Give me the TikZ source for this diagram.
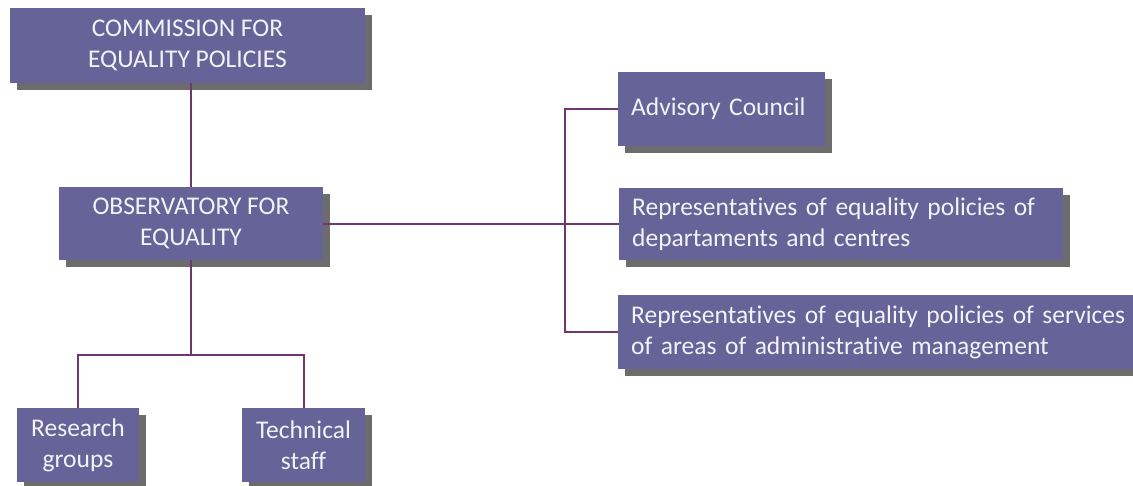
\documentclass[tikz,border=0pt]{standalone}
\usepackage{fontspec}
\setmainfont{Carlito}[Ligatures=NoCommon]
\usetikzlibrary{shadows}
\definecolor{boxfill}{RGB}{101,99,152}
\definecolor{boxtext}{RGB}{242,242,248}
\definecolor{boxshade}{RGB}{92,92,92}
\definecolor{linkline}{RGB}{112,54,112}
\tikzset{
  unit/.style={fill=boxfill, text=boxtext, font=\fontsize{25.5}{31}\selectfont, inner sep=0pt,
    drop shadow={shadow xshift=6.5pt, shadow yshift=-6.5pt, fill=boxshade, opacity=0.9}},
  centred/.style={unit, align=center},
  flushed/.style={unit, align=left, anchor=west, inner xsep=13pt},
  link/.style={linkline, line width=2pt}
}
\begin{document}
\begin{tikzpicture}[x=1pt, y=-1pt]
  \useasboundingbox (0,0) rectangle (1133,485);
  \node[centred, minimum width=355pt, minimum height=75pt] (comm) at (187.5,45.5) {COMMISSION FOR\\EQUALITY POLICIES};
  \node[centred, minimum width=264pt, minimum height=73pt] (obs) at (191,223.5) {OBSERVATORY FOR\\EQUALITY};
  \node[centred, minimum width=122pt, minimum height=74pt] (res) at (78,445) {Research\\groups};
  \node[centred, minimum width=123pt, minimum height=74pt] (tech) at (303.5,445) {Technical\\staff};
  \node[flushed, text width=181pt, minimum height=74pt] (adv) at (618,109) {Advisory Council};
  \node[flushed, text width=418pt, minimum height=72pt] (rep1) at (619,224) {Representatives of equality policies of\\departaments and centres};
  \node[flushed, text width=540pt, minimum height=74pt] (rep2) at (618,332) {Representatives of equality policies of services\\of areas of administrative management};
  \coordinate (bus) at (565,223.5);

  \draw[link] (obs.north) -- (obs.north |- comm.south);
  \draw[link] (obs.south) -- ++(0,95) coordinate (split);
  \draw[link] (res.north) |- (split) -| (tech.north);
  \draw[link] (obs.east) -- (obs.east -| rep1.west);
  \draw[link] (adv.west) -| (bus) |- (rep2.west);
\end{tikzpicture}
\end{document}
